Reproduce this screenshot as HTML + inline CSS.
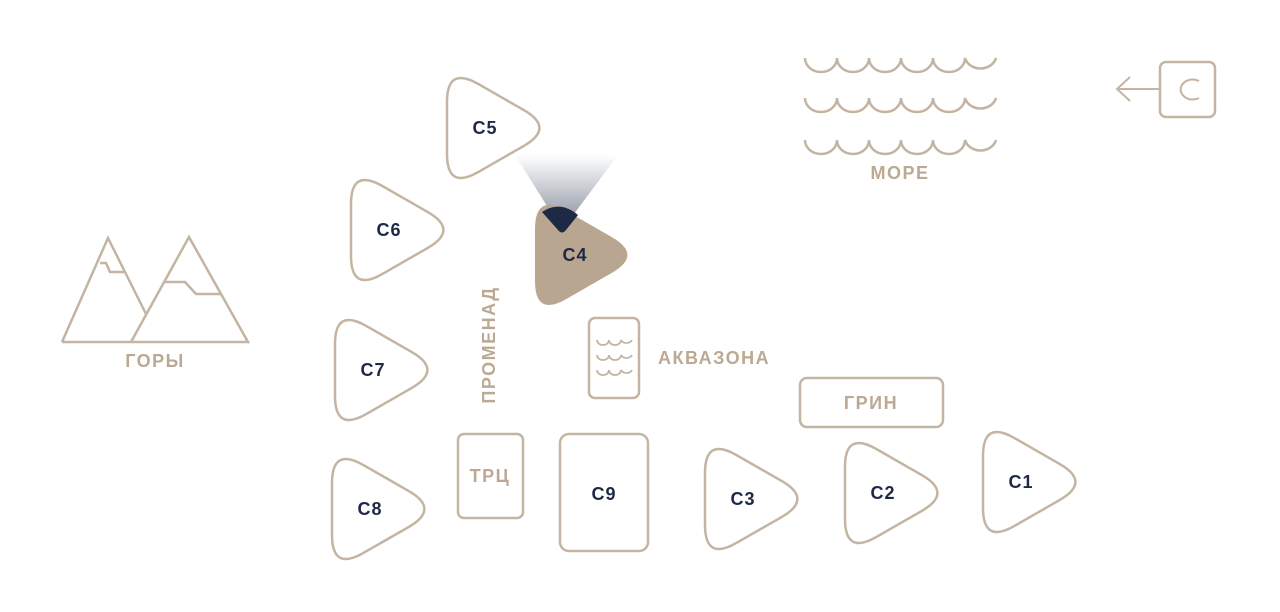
<!DOCTYPE html>
<html><head><meta charset="utf-8"><style>
html,body{margin:0;padding:0;background:#fff;}
svg{display:block;}
.d{font-family:"Liberation Sans",sans-serif;font-weight:bold;font-size:18px;fill:#1e2945;letter-spacing:1px;}
.b{font-family:"Liberation Sans",sans-serif;font-weight:bold;font-size:18px;fill:#bba993;letter-spacing:1.5px;}
</style></head><body>
<svg width="1280" height="612" viewBox="0 0 1280 612" xmlns="http://www.w3.org/2000/svg">
<defs>
<path id="tri" d="M0,-26 L0,26 Q0,62 31.2,44.1 L76.8,17.9 Q108,0 76.8,-17.9 L31.2,-44.1 Q0,-62 0,-26 Z"/>
<linearGradient id="cone" x1="0" y1="0" x2="0" y2="1">
<stop offset="0" stop-color="#1e2945" stop-opacity="0"/>
<stop offset="1" stop-color="#1e2945" stop-opacity="0.55"/>
</linearGradient>
</defs>
<g fill="none" stroke="#c4b4a2" stroke-width="2.5">
<path d="M62,342 L108,238 L146,314 M131,342 L189,237 L248,342 Z M62,342 L131,342"/>
<path d="M100,263 L106,263 L110,272 L124,272 M164,282 L185,282 L196,294 L221,294"/>
<path d="M805,58 a16,14 0 0 0 32,0 a16,14 0 0 0 32,0 a16,14 0 0 0 32,0 a16,14 0 0 0 32,0 a16,14 0 0 0 32,0 a16,14 0 0 0 31,0"/>
<path d="M805,98 a16,14 0 0 0 32,0 a16,14 0 0 0 32,0 a16,14 0 0 0 32,0 a16,14 0 0 0 32,0 a16,14 0 0 0 32,0 a16,14 0 0 0 31,0"/>
<path d="M805,140 a16,14 0 0 0 32,0 a16,14 0 0 0 32,0 a16,14 0 0 0 32,0 a16,14 0 0 0 32,0 a16,14 0 0 0 32,0 a16,14 0 0 0 31,0"/>
<rect x="1160" y="62" width="55" height="55" rx="6"/>
<path d="M1117,89 L1160,89 M1130,77 L1117,89 L1130,101" stroke-width="2"/>
<path d="M1199,81 A12,10 0 1 0 1199,98" stroke-width="2"/>
<use href="#tri" x="447" y="128"/>
<use href="#tri" x="351" y="230"/>
<use href="#tri" x="335" y="370"/>
<use href="#tri" x="332" y="509"/>
<use href="#tri" x="705" y="499"/>
<use href="#tri" x="845" y="493"/>
<use href="#tri" x="983" y="482"/>
<rect x="458" y="434" width="65" height="84" rx="6"/>
<rect x="560" y="434" width="88" height="117" rx="9"/>
<rect x="589" y="318" width="50" height="80" rx="6"/>
<rect x="800" y="378" width="143" height="49" rx="7"/>
<g stroke-width="1.8">
<path d="M597,340 a6,5 0 0 0 12,0 a6,5 0 0 0 12,0 a6,5 0 0 0 11,0"/>
<path d="M597,355 a6,5 0 0 0 12,0 a6,5 0 0 0 12,0 a6,5 0 0 0 11,0"/>
<path d="M597,370 a6,5 0 0 0 12,0 a6,5 0 0 0 12,0 a6,5 0 0 0 11,0"/>
</g>
</g>
<polygon points="562,230 515,155 618,155" fill="url(#cone)"/>
<use href="#tri" x="535" y="255" fill="#b8a690"/>
<path d="M542,212 Q560,200 578,215 L566,230 Q562,235 558,230 Z" fill="#1e2945"/>
<text class="d" x="485" y="134" text-anchor="middle">C5</text>
<text class="d" x="389" y="236" text-anchor="middle">C6</text>
<text class="d" x="575" y="261" text-anchor="middle">C4</text>
<text class="d" x="373" y="376" text-anchor="middle">C7</text>
<text class="d" x="370" y="515" text-anchor="middle">C8</text>
<text class="d" x="604" y="500" text-anchor="middle">C9</text>
<text class="d" x="743" y="505" text-anchor="middle">C3</text>
<text class="d" x="883" y="499" text-anchor="middle">C2</text>
<text class="d" x="1021" y="488" text-anchor="middle">C1</text>
<text class="b" x="155" y="367" text-anchor="middle">ГОРЫ</text>
<text class="b" x="900" y="179" text-anchor="middle">МОРЕ</text>
<text class="b" x="658" y="364">АКВАЗОНА</text>
<text class="b" x="871" y="409" text-anchor="middle">ГРИН</text>
<text class="b" x="490" y="482" text-anchor="middle">ТРЦ</text>
<text class="b" transform="translate(495,345) rotate(-90)" text-anchor="middle">ПРОМЕНАД</text>
</svg>
</body></html>
